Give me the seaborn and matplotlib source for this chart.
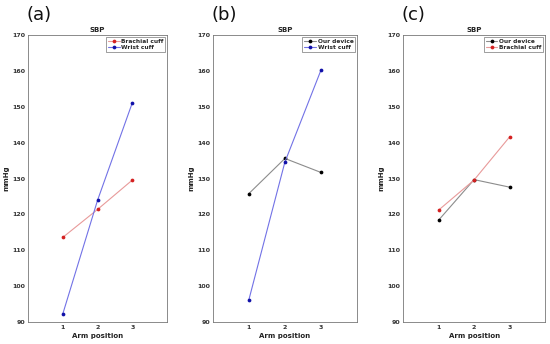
import matplotlib
matplotlib.use("Agg")
import matplotlib.pyplot as plt
import seaborn as sns
import pandas as pd
from matplotlib.lines import Line2D

sns.set_theme(style="white")
plt.rcParams['font.family'] = ['DejaVu Sans']

positions = [1, 2, 3]
our_device_b = [125.8, 135.6, 131.7]
wrist_cuff_b = [96.2, 134.6, 160.2]
brachial_cuff_a = [113.6, 121.4, 129.6]
wrist_cuff_a = [92.3, 124.0, 151.2]
our_device_c = [118.4, 129.7, 127.6]
brachial_cuff_c = [121.2, 129.6, 141.6]
yticks = [90, 100, 110, 120, 130, 140, 150, 160, 170]
panel_labels = ["(a)", "(b)", "(c)"]

styles = {
    "Brachial cuff": dict(line="#e89a9a", mk="#d42020"),
    "Wrist cuff": dict(line="#7272e6", mk="#1010a8"),
    "Our device": dict(line="#8c8c8c", mk="#000000"),
}

panels = [
    [("Brachial cuff", brachial_cuff_a), ("Wrist cuff", wrist_cuff_a)],
    [("Our device", our_device_b), ("Wrist cuff", wrist_cuff_b)],
    [("Our device", our_device_c), ("Brachial cuff", brachial_cuff_c)],
]

fig = plt.figure(figsize=(5.5, 3.44), dpi=100)
rects = [
    (0.051, 0.064, 0.253, 0.834),
    (0.387, 0.064, 0.262, 0.834),
    (0.733, 0.064, 0.258, 0.834),
]

MS = 2.7
for rect, series, lab in zip(rects, panels, panel_labels):
    ax = fig.add_axes(rect)
    handles = []
    for name, vals in series:
        df = pd.DataFrame({"pos": positions, "val": vals})
        st = styles[name]
        sns.lineplot(data=df, x="pos", y="val", ax=ax, color=st["line"], lw=0.8,
                     marker="o", markersize=MS, markerfacecolor=st["mk"],
                     markeredgecolor=st["mk"], markeredgewidth=0)
        handles.append(Line2D([0], [0], color=st["line"], lw=0.8, marker="o",
                              markersize=MS, markerfacecolor=st["mk"],
                              markeredgecolor=st["mk"], markeredgewidth=0,
                              label=name))
    ax.set_xlim(0, 4)
    ax.set_ylim(90, 170)
    ax.set_xticks(positions)
    ax.set_yticks(yticks)
    ax.tick_params(direction="in", length=2, width=0.5, labelsize=4.5,
                   labelcolor="#333333", pad=2, color="#555555")
    for t in ax.get_xticklabels() + ax.get_yticklabels():
        t.set_fontweight("bold")
    for s in ax.spines.values():
        s.set_linewidth(0.6)
        s.set_color("#777777")
    ax.set_title("SBP", fontsize=5, fontweight="bold", pad=2, color="#222222")
    ax.set_xlabel("Arm position", fontsize=5, fontweight="bold", labelpad=2, color="#222222")
    ax.set_ylabel("mmHg", fontsize=5, fontweight="bold", labelpad=2, color="#222222")
    leg = ax.legend(handles=handles, loc="upper right", fontsize=4.2,
                    frameon=True, fancybox=False, borderpad=0.3,
                    handlelength=2.0, handletextpad=0.3, labelspacing=0.2,
                    borderaxespad=0.3)
    leg.get_frame().set_edgecolor("#555555")
    leg.get_frame().set_linewidth(0.5)
    for t in leg.get_texts():
        t.set_fontweight("bold")
    fig.text(rect[0] - 0.003, 0.955, lab, fontsize=13, va="center", ha="left",
             color="#111111")

fig.savefig("out.png", dpi=100)
